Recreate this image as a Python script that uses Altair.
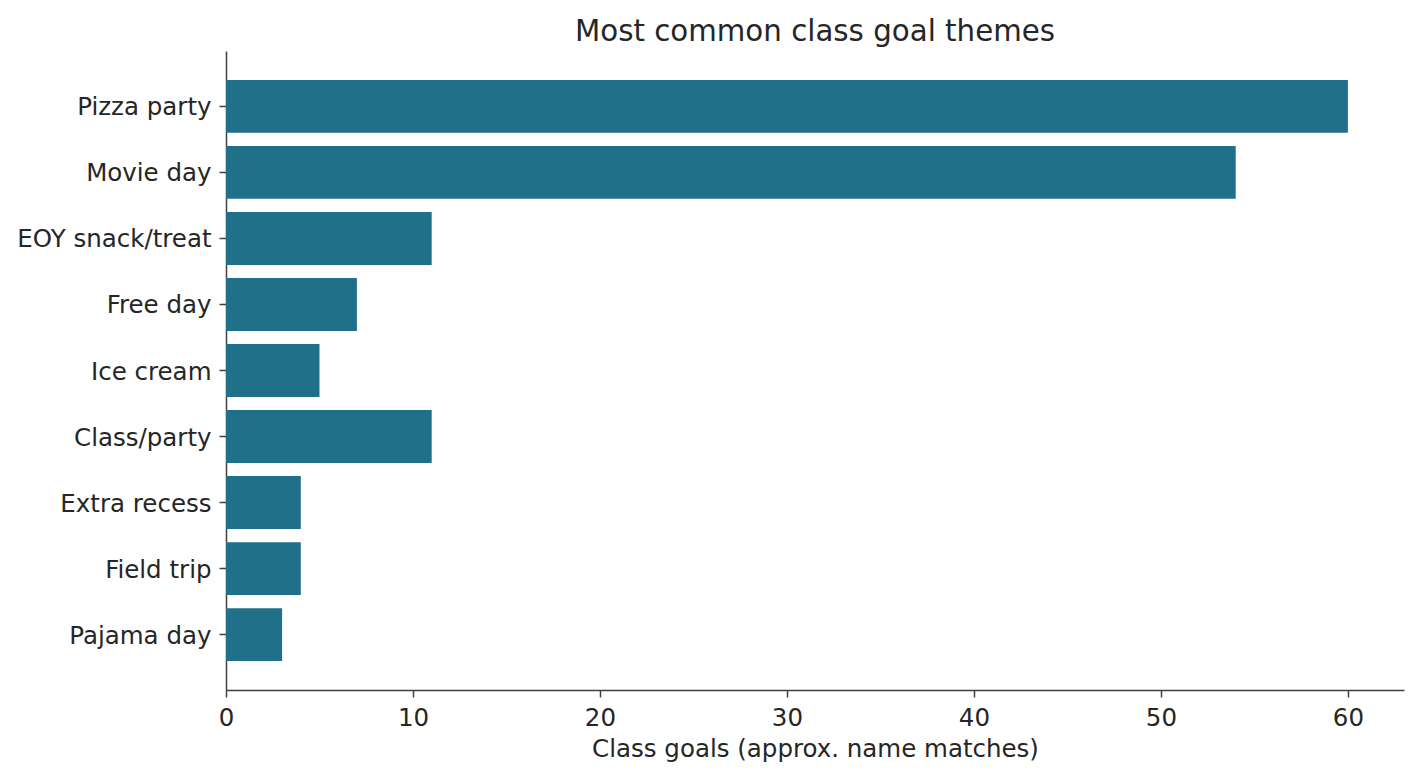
import altair as alt
import pandas as pd

categories = ["Pizza party", "Movie day", "EOY snack/treat", "Free day", "Ice cream",
              "Class/party", "Extra recess", "Field trip", "Pajama day"]
counts = [60, 54, 11, 7, 5, 11, 4, 4, 3]

df = pd.DataFrame({"theme": categories, "count": counts})

FS = 24.5

chart = alt.Chart(df).mark_bar(color="#20708a").encode(
    y=alt.Y("theme:N", sort=categories, title=None,
            scale=alt.Scale(paddingInner=0.2, paddingOuter=0.44),
            axis=alt.Axis(labelFontSize=FS, labelColor="#262626", labelFont="DejaVu Sans",
                          domainColor="#404040", domainWidth=1.5, tickColor="#404040",
                          tickWidth=1.5, tickSize=7, labelPadding=8, labelLimit=400,
                          labelOffset=2, minExtent=210, maxExtent=210)),
    x=alt.X("count:Q", title="Class goals (approx. name matches)",
            scale=alt.Scale(domain=[0, 63], nice=False),
            axis=alt.Axis(values=[0, 10, 20, 30, 40, 50, 60], labelFontSize=FS,
                          labelColor="#262626", labelFont="DejaVu Sans", titleFont="DejaVu Sans",
                          titleFontSize=FS, titleFontWeight="normal", titleColor="#262626",
                          domainColor="#404040", domainWidth=1.5, tickColor="#404040",
                          tickWidth=1.5, tickSize=7, labelPadding=9, titlePadding=8,
                          grid=False, labelFlush=False)),
).properties(
    width=1178, height=639,
    padding={"left": 8, "top": 9, "right": 4, "bottom": 2},
    title=alt.TitleParams("Most common class goal themes", font="DejaVu Sans", fontSize=29.3,
                          fontWeight="normal", color="#262626", anchor="middle", offset=4),
).configure_view(stroke=None).configure_axisY(grid=False)

chart.save("out.html", embed_options={"renderer": "svg", "actions": False})
